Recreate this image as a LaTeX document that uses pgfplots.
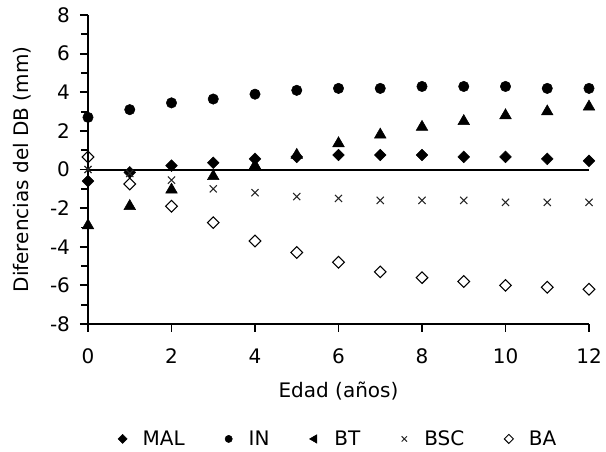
\documentclass[border=0pt]{standalone}
\usepackage{fontspec}
\setmainfont{DejaVu Sans}
\usepackage{pgfplots}
\pgfplotsset{compat=1.18}

\begin{document}
\begin{tikzpicture}
\path[use as bounding box] (-66pt,-96pt) rectangle (388.5pt,243pt);
\begin{axis}[
  scale only axis,
  width=375.75pt, height=231.75pt,
  anchor=south west, at={(0,0)},
  xmin=0, xmax=12, ymin=-8, ymax=8,
  clip=false,
  axis x line*=bottom, axis y line*=left,
  axis line style={line width=1.4pt},
  xtick={0,2,...,12},
  ytick={-8,-6,...,8},
  yticklabels={-8,-6,-4,-2,0,2,4,6,8},
  minor y tick num=1,
  tick align=outside,
  major tick length=6pt, minor tick length=5pt,
  tick style={line width=1.4pt, black},
  font=\fontsize{15}{18}\selectfont,
  ticklabel style={font=\fontsize{15}{18}\selectfont},
  xticklabel style={yshift=-9pt},
  yticklabel style={xshift=-4pt},
  /pgf/number format/assume math mode=true,
  xlabel={Edad (años)},
  ylabel={Diferencias del DB (mm)},
  xlabel style={at={(axis description cs:0.5,-0.218)}, anchor=center},
  ylabel style={at={(axis description cs:-0.132,0.5)}, anchor=center},
  legend columns=-1,
  legend style={at={(axis description cs:0.5,-0.372)}, anchor=center, draw=none,
    font=\fontsize{15}{18}\selectfont,
    /tikz/every even column/.append style={column sep=28pt}},
]
\addplot[black, line width=1.5pt, forget plot] coordinates {(0,0) (12,0)};

\addplot[only marks, mark=square*, mark size=3.1pt, black, mark options={rotate=45},
  legend image code/.code={\path[draw=none, fill=none] (-3pt,0) -- (13pt,0);
    \draw[black, mark=square*, mark size=2.4pt, mark options={rotate=45}] plot coordinates {(0pt,0pt)};}]
  coordinates {(0,-0.6)(1,-0.15)(2,0.2)(3,0.35)(4,0.55)(5,0.65)(6,0.75)(7,0.75)(8,0.75)(9,0.65)(10,0.65)(11,0.55)(12,0.45)};
\addlegendentry{MAL}

\addplot[only marks, mark=*, mark size=3.9pt, black,
  legend image code/.code={\path[draw=none, fill=none] (-3pt,0) -- (13pt,0);
    \draw[black, mark=*, mark size=2.7pt] plot coordinates {(0pt,0pt)};}]
  coordinates {(0,2.7)(1,3.1)(2,3.45)(3,3.65)(4,3.9)(5,4.1)(6,4.2)(7,4.2)(8,4.3)(9,4.3)(10,4.3)(11,4.2)(12,4.2)};
\addlegendentry{IN}

\addplot[only marks, mark=triangle*, mark size=5pt, black,
  legend image code/.code={\path[draw=none, fill=none] (-3pt,0) -- (13pt,0);
    \draw[black, mark=triangle*, mark size=3.6pt, mark options={rotate=90}] plot coordinates {(0pt,0pt)};}]
  coordinates {(0,-2.9)(1,-1.9)(2,-1.05)(3,-0.35)(4,0.2)(5,0.75)(6,1.35)(7,1.8)(8,2.2)(9,2.5)(10,2.8)(11,3.0)(12,3.25)};
\addlegendentry{BT}

\addplot[only marks, mark=x, mark size=3.8pt, black!85, mark options={line width=0.8pt},
  legend image code/.code={\path[draw=none, fill=none] (-3pt,0) -- (13pt,0);
    \draw[black!85, mark=x, mark size=2.8pt, mark options={line width=0.7pt}] plot coordinates {(0pt,0pt)};}]
  coordinates {(0,0)(1,-0.2)(2,-0.55)(3,-1.0)(4,-1.2)(5,-1.4)(6,-1.5)(7,-1.6)(8,-1.6)(9,-1.6)(10,-1.7)(11,-1.7)(12,-1.7)};
\addlegendentry{BSC}

\addplot[only marks, mark=square, mark size=3.1pt, black, mark options={rotate=45, line width=0.8pt},
  legend image code/.code={\path[draw=none, fill=none] (-3pt,0) -- (13pt,0);
    \draw[black, mark=square, mark size=2.4pt, mark options={rotate=45, line width=0.7pt}] plot coordinates {(0pt,0pt)};}]
  coordinates {(0,0.65)(1,-0.75)(2,-1.9)(3,-2.75)(4,-3.7)(5,-4.3)(6,-4.8)(7,-5.3)(8,-5.6)(9,-5.8)(10,-6.0)(11,-6.1)(12,-6.2)};
\addlegendentry{BA}
\end{axis}
\end{tikzpicture}
\end{document}
